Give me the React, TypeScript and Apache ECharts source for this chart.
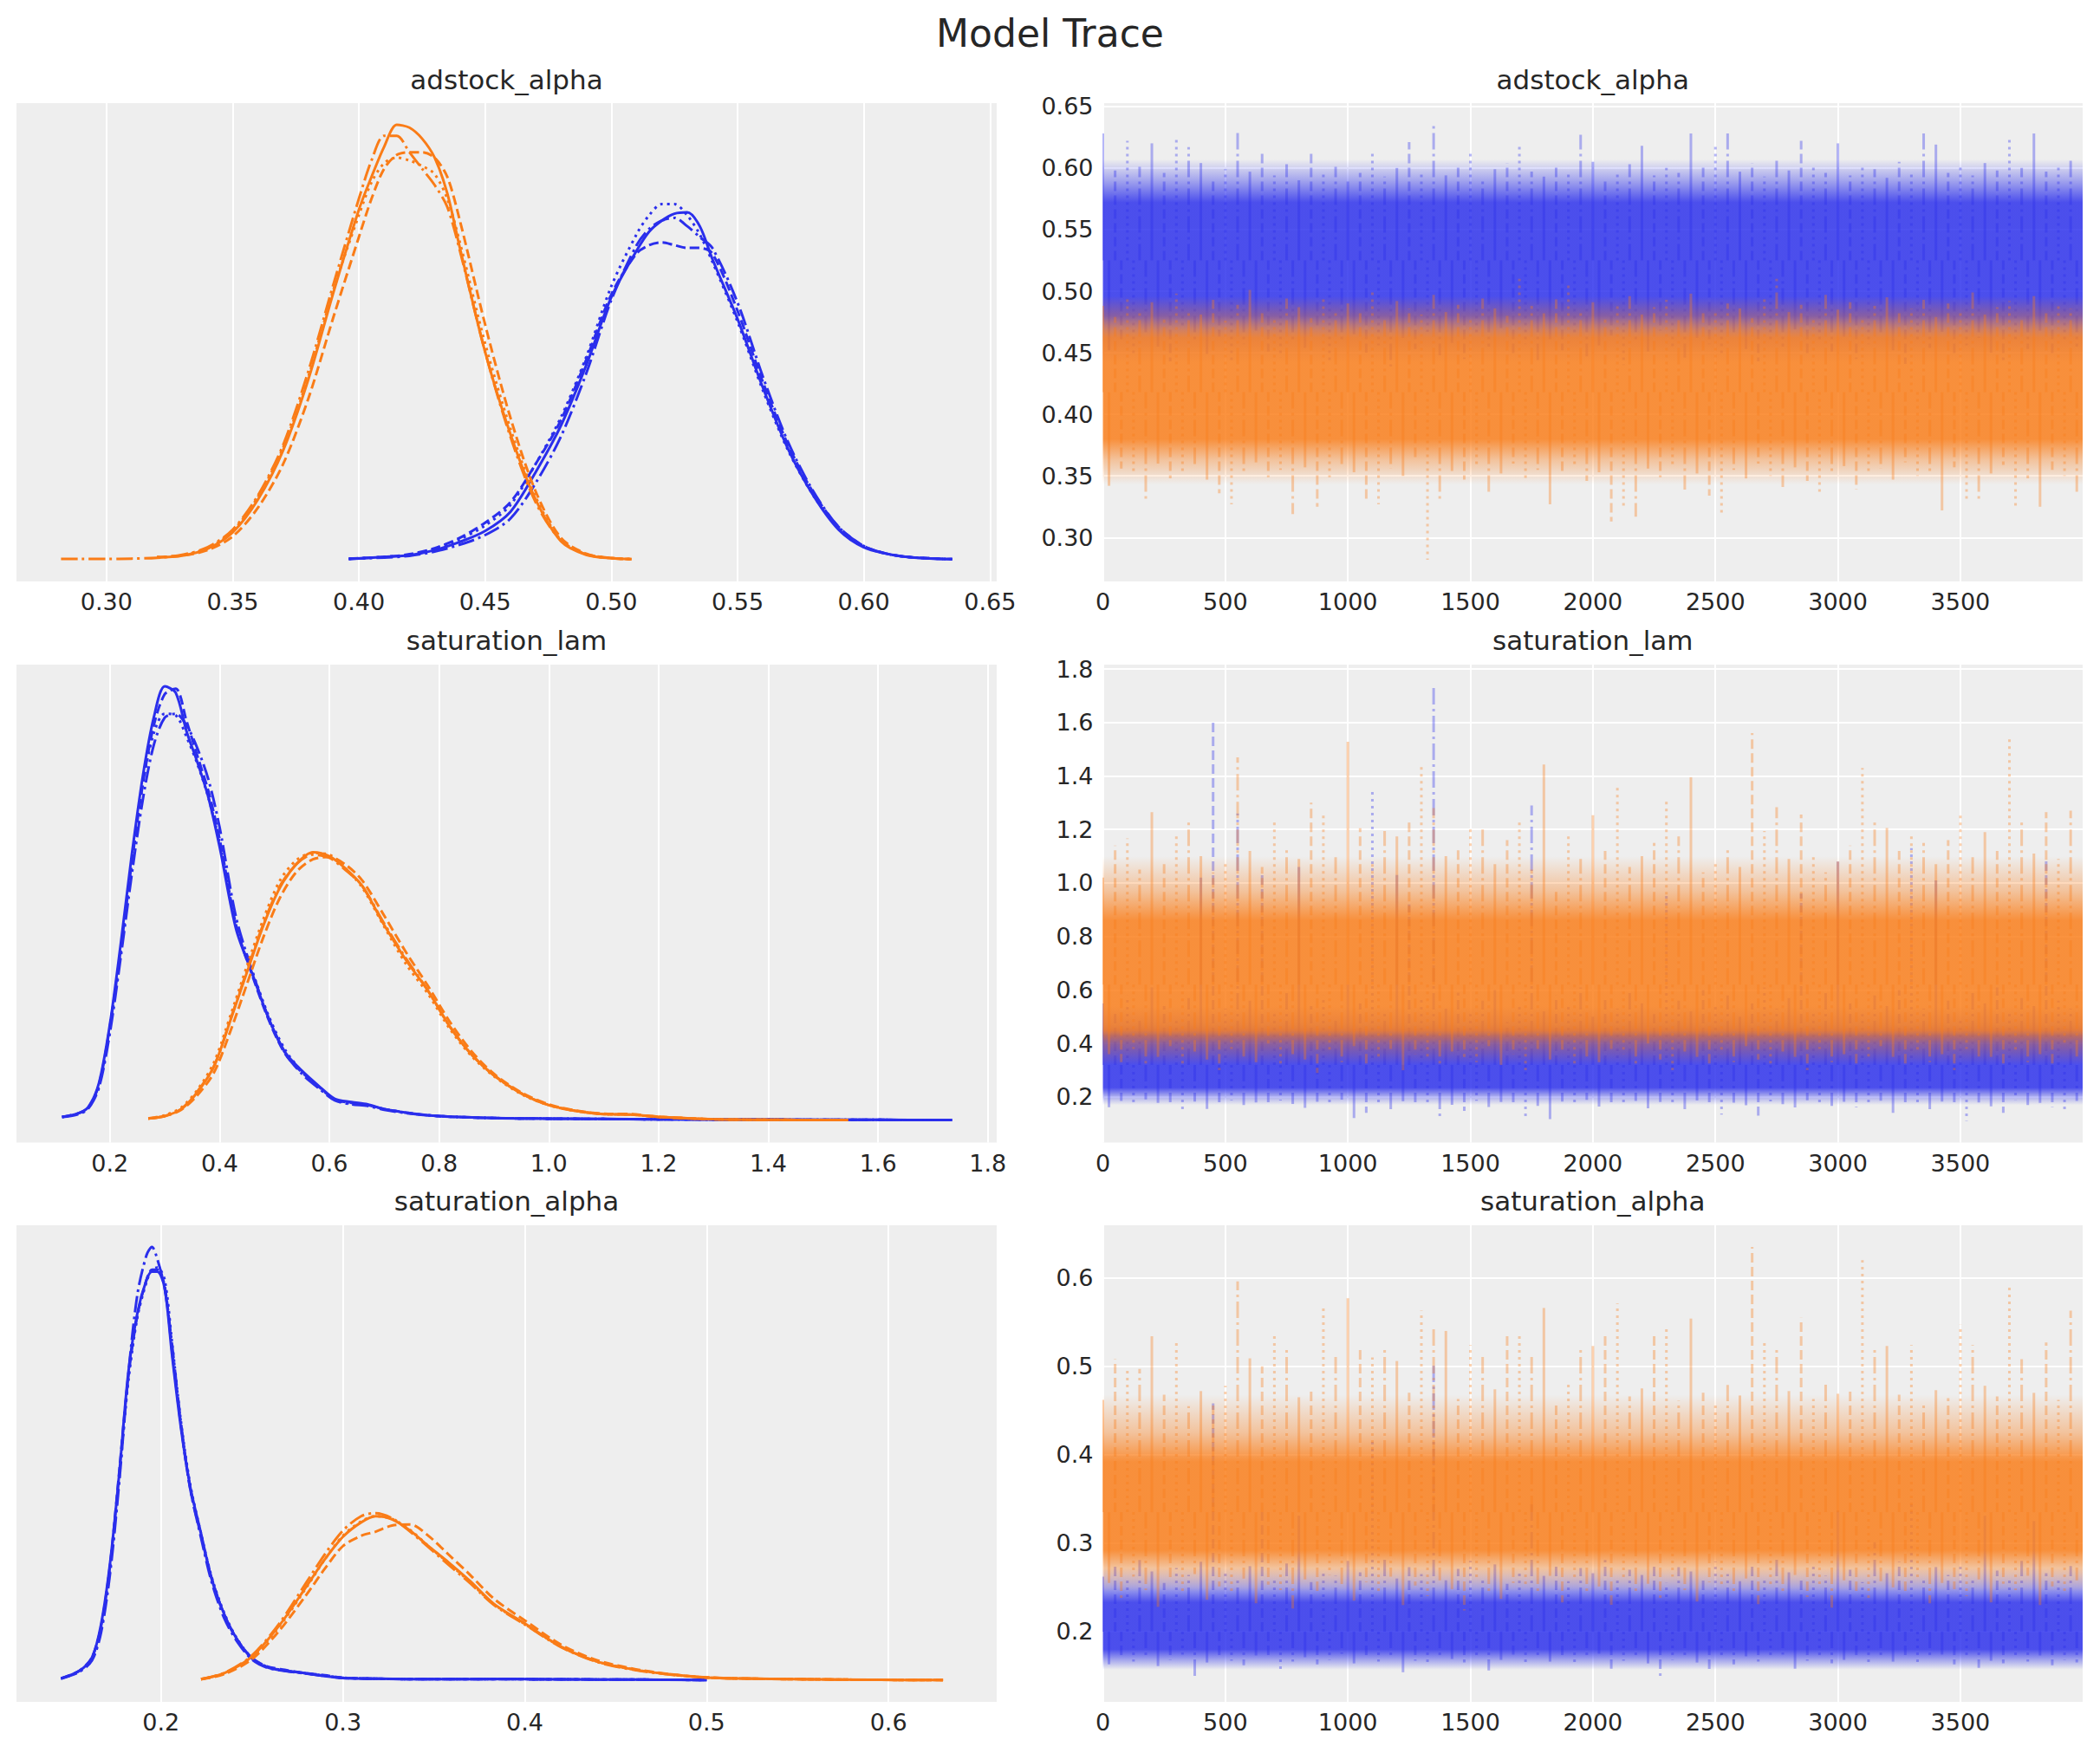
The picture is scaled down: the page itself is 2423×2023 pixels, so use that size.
import { useEffect, useRef } from 'react';
import * as echarts from 'echarts';

const BLUE = '#2a2eec';
const ORANGE = '#fa7c17';
const TEXT = '#262626';
const FONT = '"DejaVu Sans", sans-serif';

const suptitle = 'Model Trace';
const varNames = ['adstock_alpha', 'saturation_lam', 'saturation_alpha'];
const tickStep = [0.05, 0.2, 0.1];
const tickDecimals = [2, 1, 1];
const drawCount = 4000;
const drawTickStep = 500;
const drawSampleStep = 50;

// ---------- KDE: adstock_alpha ----------
const kdeAdBlueX = [0.396, 0.41, 0.42, 0.43, 0.44, 0.45, 0.46, 0.47, 0.48, 0.49, 0.50, 0.51, 0.515, 0.52, 0.525, 0.53, 0.535, 0.54, 0.55, 0.56, 0.57, 0.58, 0.59, 0.60, 0.61, 0.62, 0.635];
const kdeAdBlueSolid = [0.03, 0.1, 0.16, 0.35, 0.65, 1.05, 1.75, 3.2, 4.9, 7.1, 9.6, 11.3, 12.0, 12.4, 12.65, 12.7, 12.2, 11.0, 8.8, 6.3, 4.05, 2.35, 1.1, 0.45, 0.2, 0.08, 0.02];
const kdeAdBlueDashed = [0.04, 0.1, 0.2, 0.42, 0.8, 1.35, 2.1, 3.5, 5.1, 7.3, 9.7, 11.2, 11.5, 11.6, 11.5, 11.4, 11.4, 11.2, 9.1, 6.5, 4.2, 2.45, 1.2, 0.5, 0.2, 0.08, 0.02];
const kdeAdBlueDotted = [0.03, 0.1, 0.18, 0.4, 0.75, 1.25, 2.0, 3.5, 5.2, 7.4, 10.0, 11.9, 12.6, 13.0, 13.0, 12.6, 11.9, 10.9, 8.7, 6.2, 4.0, 2.35, 1.15, 0.48, 0.2, 0.08, 0.02];
const kdeAdBlueDashDot = [0.03, 0.08, 0.14, 0.3, 0.55, 0.9, 1.5, 2.8, 4.5, 6.8, 9.5, 11.5, 12.1, 12.4, 12.5, 12.2, 11.8, 11.4, 9.4, 6.7, 4.3, 2.5, 1.2, 0.5, 0.2, 0.08, 0.02];

const kdeAdOrangeX = [0.282, 0.29, 0.30, 0.31, 0.32, 0.33, 0.34, 0.35, 0.36, 0.37, 0.38, 0.39, 0.40, 0.405, 0.41, 0.415, 0.42, 0.425, 0.43, 0.435, 0.44, 0.45, 0.46, 0.47, 0.48, 0.49, 0.50, 0.508];
const kdeAdOrangeSolid = [null, null, null, null, 0.08, 0.15, 0.4, 1.0, 2.2, 4.0, 6.6, 9.8, 12.8, 14.0, 15.1, 15.9, 15.8, 15.4, 14.7, 13.4, 11.4, 7.6, 4.6, 2.2, 0.68, 0.18, 0.05, 0.02];
const kdeAdOrangeDashed = [null, null, null, null, 0.1, 0.15, 0.35, 0.85, 1.9, 3.5, 5.9, 8.9, 11.8, 13.2, 14.3, 14.8, 14.9, 14.9, 14.7, 14.0, 12.4, 8.6, 5.2, 2.5, 0.8, 0.22, 0.06, 0.02];
const kdeAdOrangeDotted = [null, null, null, null, 0.09, 0.16, 0.42, 1.05, 2.3, 4.1, 6.7, 9.9, 12.6, 13.8, 14.5, 14.7, 14.6, 14.4, 14.1, 13.2, 11.6, 7.9, 4.8, 2.3, 0.72, 0.2, 0.06, 0.02];
const kdeAdOrangeDashDot = [0.03, 0.03, 0.03, 0.04, 0.07, 0.18, 0.45, 1.1, 2.35, 4.2, 6.9, 10.1, 13.2, 14.6, 15.5, 15.5, 14.9, 14.3, 13.7, 12.9, 11.3, 7.6, 4.5, 2.1, 0.7, 0.2, 0.06, 0.02];

// ---------- KDE: saturation_lam ----------
const kdeLamBlueX = [0.113, 0.14, 0.16, 0.18, 0.2, 0.22, 0.24, 0.26, 0.28, 0.30, 0.32, 0.34, 0.36, 0.38, 0.40, 0.43, 0.46, 0.49, 0.52, 0.55, 0.58, 0.61, 0.64, 0.67, 0.70, 0.75, 0.80, 0.9, 1.0, 1.2, 1.4, 1.6, 1.735];
const kdeLamBlueSolid = [0.05, 0.09, 0.17, 0.48, 1.23, 2.27, 3.4, 4.4, 5.15, 5.55, 5.47, 4.97, 4.57, 4.12, 3.5, 2.45, 1.87, 1.3, 0.87, 0.64, 0.45, 0.28, 0.24, 0.21, 0.15, 0.094, 0.06, 0.035, 0.028, 0.019, 0.015, 0.012, 0.01];
const kdeLamBlueDashed = [0.05, 0.09, 0.16, 0.46, 1.2, 2.2, 3.3, 4.3, 5.05, 5.45, 5.52, 5.1, 4.65, 4.2, 3.6, 2.5, 1.85, 1.28, 0.85, 0.62, 0.44, 0.27, 0.23, 0.2, 0.15, 0.095, 0.06, 0.035, 0.028, 0.019, 0.015, 0.012, 0.01];
const kdeLamBlueDotted = [0.05, 0.09, 0.16, 0.45, 1.18, 2.2, 3.3, 4.3, 4.95, 5.2, 5.18, 4.9, 4.55, 4.12, 3.55, 2.5, 1.9, 1.33, 0.9, 0.63, 0.43, 0.27, 0.22, 0.2, 0.15, 0.095, 0.06, 0.035, 0.028, 0.019, 0.015, 0.012, 0.01];
const kdeLamBlueDashDot = [0.05, 0.08, 0.15, 0.42, 1.12, 2.1, 3.15, 4.1, 4.8, 5.15, 5.2, 5.05, 4.75, 4.35, 3.75, 2.6, 1.9, 1.3, 0.86, 0.6, 0.42, 0.26, 0.21, 0.19, 0.14, 0.09, 0.06, 0.035, 0.028, 0.019, 0.015, 0.012, 0.01];

const kdeLamOrangeX = [0.27, 0.30, 0.33, 0.36, 0.39, 0.42, 0.45, 0.48, 0.51, 0.54, 0.57, 0.60, 0.63, 0.66, 0.70, 0.74, 0.78, 0.82, 0.86, 0.90, 0.95, 1.0, 1.05, 1.1, 1.15, 1.2, 1.3, 1.4, 1.545];
const kdeLamOrangeSolid = [0.03, 0.06, 0.15, 0.37, 0.7, 1.29, 1.9, 2.5, 2.98, 3.28, 3.43, 3.38, 3.22, 3.0, 2.5, 2.05, 1.66, 1.2, 0.84, 0.58, 0.35, 0.2, 0.127, 0.085, 0.08, 0.05, 0.02, 0.013, 0.01];
const kdeLamOrangeDashed = [0.03, 0.06, 0.14, 0.33, 0.62, 1.15, 1.75, 2.35, 2.85, 3.18, 3.34, 3.37, 3.27, 3.07, 2.62, 2.15, 1.72, 1.26, 0.88, 0.6, 0.36, 0.21, 0.13, 0.09, 0.085, 0.05, 0.02, 0.013, 0.01];
const kdeLamOrangeDotted = [0.03, 0.07, 0.17, 0.4, 0.75, 1.35, 1.98, 2.58, 3.07, 3.33, 3.42, 3.4, 3.22, 2.98, 2.48, 2.0, 1.62, 1.17, 0.82, 0.57, 0.34, 0.2, 0.125, 0.085, 0.08, 0.05, 0.02, 0.013, 0.01];
const kdeLamOrangeDashDot = [0.03, 0.06, 0.15, 0.38, 0.7, 1.3, 1.92, 2.52, 3.0, 3.28, 3.4, 3.36, 3.2, 3.0, 2.52, 2.07, 1.66, 1.2, 0.84, 0.58, 0.35, 0.2, 0.125, 0.085, 0.08, 0.05, 0.02, 0.013, 0.01];

// ---------- KDE: saturation_alpha ----------
const kdeSaBlueX = [0.145, 0.155, 0.162, 0.167, 0.172, 0.177, 0.182, 0.187, 0.192, 0.195, 0.198, 0.202, 0.206, 0.211, 0.216, 0.222, 0.228, 0.235, 0.242, 0.25, 0.258, 0.268, 0.278, 0.29, 0.30, 0.32, 0.35, 0.39, 0.42, 0.46, 0.50];
const kdeSaBlueSolid = [0.09, 0.45, 1.1, 2.7, 5.7, 10.0, 14.9, 17.8, 19.4, 19.8, 19.8, 19.0, 15.8, 12.2, 9.4, 7.1, 4.85, 3.15, 1.95, 1.05, 0.64, 0.46, 0.36, 0.2, 0.11, 0.07, 0.05, 0.06, 0.04, 0.03, 0.01];
const kdeSaBlueDashed = [0.09, 0.45, 1.1, 2.6, 5.6, 10.1, 14.7, 17.7, 19.4, 19.9, 19.9, 19.1, 16.0, 12.3, 9.3, 7.0, 4.9, 3.1, 1.95, 1.08, 0.68, 0.5, 0.36, 0.24, 0.12, 0.07, 0.05, 0.05, 0.04, 0.03, 0.01];
const kdeSaBlueDotted = [0.08, 0.42, 1.0, 2.45, 5.4, 9.8, 14.5, 17.6, 19.3, 19.9, 20.0, 19.4, 16.4, 12.5, 9.5, 7.1, 4.95, 3.2, 1.98, 1.08, 0.66, 0.47, 0.35, 0.22, 0.12, 0.07, 0.05, 0.05, 0.04, 0.03, 0.01];
const kdeSaBlueDashDot = [0.08, 0.4, 0.95, 2.3, 5.2, 9.6, 14.8, 18.7, 20.6, 21.0, 20.4, 19.0, 16.3, 12.4, 9.3, 6.9, 4.7, 2.95, 1.85, 1.0, 0.62, 0.45, 0.34, 0.21, 0.11, 0.07, 0.05, 0.05, 0.04, 0.03, 0.01];

const kdeSaOrangeX = [0.222, 0.235, 0.25, 0.265, 0.28, 0.29, 0.30, 0.31, 0.318, 0.327, 0.337, 0.347, 0.358, 0.37, 0.383, 0.40, 0.42, 0.44, 0.46, 0.48, 0.50, 0.52, 0.55, 0.59, 0.63];
const kdeSaOrangeSolid = [0.05, 0.35, 1.15, 2.65, 4.55, 5.85, 6.95, 7.65, 7.95, 7.8, 7.25, 6.5, 5.72, 4.8, 3.7, 2.75, 1.62, 0.9, 0.52, 0.28, 0.13, 0.08, 0.05, 0.02, 0.01];
const kdeSaOrangeDashed = [0.04, 0.3, 1.02, 2.4, 4.15, 5.4, 6.5, 7.0, 7.2, 7.5, 7.55, 7.0, 6.1, 5.1, 3.95, 2.9, 1.72, 0.96, 0.55, 0.29, 0.14, 0.08, 0.05, 0.02, 0.01];
const kdeSaOrangeDotted = [0.05, 0.34, 1.12, 2.6, 4.5, 5.85, 7.0, 7.7, 7.95, 7.82, 7.28, 6.5, 5.68, 4.75, 3.68, 2.72, 1.62, 0.9, 0.52, 0.28, 0.13, 0.08, 0.05, 0.02, 0.01];
const kdeSaOrangeDashDot = [0.05, 0.36, 1.2, 2.75, 4.75, 6.1, 7.25, 7.95, 8.1, 7.85, 7.2, 6.45, 5.6, 4.7, 3.65, 2.7, 1.6, 0.88, 0.5, 0.27, 0.13, 0.08, 0.05, 0.02, 0.01];

// ---------- Trace: adstock_alpha (extremes every 50 draws) ----------
const trAdBlueCenter = 0.525;
const trAdBlueCore = [0.480, 0.572];
const trAdBlueMid = [0.462, 0.590];
const trAdBlueFade = [0.442, 0.607];
const trAdBlueHi = [0.628, 0.598, 0.622, 0.601, 0.620, 0.596, 0.625, 0.617, 0.604, 0.592, 0.599, 0.631, 0.597, 0.612, 0.594, 0.603, 0.590, 0.612, 0.597, 0.601, 0.589, 0.596, 0.614, 0.593, 0.600, 0.621, 0.596, 0.635, 0.594, 0.602, 0.613, 0.591, 0.599, 0.604, 0.620, 0.597, 0.593, 0.601, 0.596, 0.627, 0.605, 0.592, 0.598, 0.603, 0.618, 0.594, 0.600, 0.596, 0.628, 0.601, 0.619, 0.628, 0.597, 0.604, 0.593, 0.609, 0.598, 0.622, 0.601, 0.596, 0.620, 0.594, 0.603, 0.599, 0.592, 0.605, 0.597, 0.628, 0.619, 0.596, 0.601, 0.594, 0.604, 0.598, 0.623, 0.600, 0.628, 0.597, 0.602, 0.608];
const trAdBlueLo = [0.452, 0.461, 0.447, 0.466, 0.455, 0.443, 0.470, 0.458, 0.449, 0.463, 0.441, 0.457, 0.468, 0.451, 0.446, 0.460, 0.454, 0.471, 0.444, 0.459, 0.465, 0.450, 0.456, 0.439, 0.462, 0.453, 0.467, 0.448, 0.458, 0.445, 0.463, 0.455, 0.470, 0.449, 0.457, 0.442, 0.461, 0.452, 0.466, 0.447, 0.456, 0.464, 0.440, 0.459, 0.451, 0.468, 0.454, 0.446, 0.462, 0.457, 0.449, 0.465, 0.453, 0.443, 0.460, 0.455, 0.469, 0.448, 0.458, 0.451, 0.463, 0.445, 0.457, 0.466, 0.452, 0.441, 0.459, 0.454, 0.467, 0.448, 0.456, 0.462, 0.450, 0.444, 0.461, 0.453, 0.468, 0.447, 0.458, 0.455];
const trAdOrangeCenter = 0.418;
const trAdOrangeCore = [0.380, 0.462];
const trAdOrangeMid = [0.363, 0.478];
const trAdOrangeFade = [0.343, 0.496];
const trAdOrangeHi = [0.488, 0.479, 0.495, 0.483, 0.491, 0.477, 0.498, 0.485, 0.481, 0.493, 0.476, 0.489, 0.501, 0.484, 0.480, 0.494, 0.487, 0.478, 0.496, 0.482, 0.490, 0.485, 0.499, 0.479, 0.492, 0.486, 0.481, 0.497, 0.483, 0.489, 0.478, 0.494, 0.486, 0.480, 0.510, 0.488, 0.482, 0.495, 0.507, 0.484, 0.491, 0.477, 0.489, 0.496, 0.481, 0.487, 0.493, 0.479, 0.498, 0.485, 0.482, 0.490, 0.486, 0.478, 0.494, 0.510, 0.483, 0.489, 0.480, 0.497, 0.485, 0.491, 0.477, 0.488, 0.495, 0.482, 0.486, 0.493, 0.479, 0.490, 0.484, 0.499, 0.481, 0.487, 0.492, 0.478, 0.496, 0.483, 0.489, 0.486];
const trAdOrangeLo = [0.342, 0.356, 0.351, 0.328, 0.360, 0.348, 0.354, 0.358, 0.347, 0.336, 0.327, 0.352, 0.361, 0.349, 0.355, 0.319, 0.357, 0.325, 0.349, 0.359, 0.353, 0.330, 0.327, 0.356, 0.350, 0.362, 0.282, 0.331, 0.354, 0.347, 0.358, 0.336, 0.352, 0.360, 0.345, 0.355, 0.327, 0.351, 0.357, 0.346, 0.353, 0.313, 0.325, 0.317, 0.356, 0.349, 0.359, 0.339, 0.352, 0.334, 0.319, 0.355, 0.348, 0.360, 0.350, 0.341, 0.357, 0.346, 0.334, 0.353, 0.358, 0.339, 0.351, 0.356, 0.347, 0.361, 0.350, 0.354, 0.322, 0.357, 0.328, 0.331, 0.352, 0.359, 0.323, 0.348, 0.325, 0.355, 0.350, 0.334];

// ---------- Trace: saturation_lam ----------
const trLamBlueCenter = 0.32;
const trLamBlueCore = [0.235, 0.43];
const trLamBlueMid = [0.205, 0.47];
const trLamBlueFade = [0.170, 0.540];
const trLamBlueHi = [0.55, 0.52, 0.58, 0.50, 0.61, 0.54, 0.49, 0.57, 1.02, 1.61, 0.53, 1.26, 0.56, 1.03, 0.51, 0.60, 1.06, 0.54, 0.58, 0.50, 0.62, 0.55, 1.35, 0.52, 1.03, 0.92, 0.57, 1.73, 0.53, 0.59, 0.51, 0.56, 0.60, 0.48, 0.55, 1.29, 0.52, 0.58, 0.54, 0.61, 0.50, 0.57, 0.53, 0.59, 0.55, 0.51, 0.96, 0.56, 0.52, 0.60, 0.54, 0.58, 0.50, 0.55, 0.61, 0.53, 0.57, 0.96, 0.52, 0.59, 1.08, 0.55, 0.51, 0.58, 0.54, 0.60, 1.13, 0.53, 1.01, 0.56, 0.50, 0.59, 0.55, 0.61, 0.52, 0.57, 0.54, 1.09, 0.56, 0.53];
const trLamBlueLo = [0.162, 0.185, 0.172, 0.191, 0.178, 0.168, 0.148, 0.183, 0.155, 0.176, 0.188, 0.170, 0.180, 0.165, 0.187, 0.174, 0.159, 0.182, 0.169, 0.190, 0.121, 0.141, 0.177, 0.148, 0.184, 0.166, 0.179, 0.121, 0.171, 0.148, 0.186, 0.163, 0.181, 0.173, 0.121, 0.167, 0.117, 0.183, 0.175, 0.189, 0.164, 0.178, 0.170, 0.185, 0.158, 0.181, 0.172, 0.148, 0.187, 0.166, 0.134, 0.179, 0.169, 0.130, 0.184, 0.173, 0.161, 0.188, 0.176, 0.167, 0.182, 0.162, 0.171, 0.186, 0.141, 0.177, 0.168, 0.141, 0.183, 0.174, 0.111, 0.180, 0.165, 0.141, 0.189, 0.170, 0.178, 0.163, 0.141, 0.185];
const trLamOrangeCenter = 0.62;
const trLamOrangeCore = [0.45, 0.86];
const trLamOrangeMid = [0.40, 0.97];
const trLamOrangeFade = [0.32, 1.10];
const trLamOrangeHi = [1.02, 1.14, 1.167, 1.05, 1.265, 1.08, 1.19, 1.23, 1.10, 1.04, 1.07, 1.47, 1.12, 1.06, 1.23, 1.137, 1.09, 1.30, 1.256, 1.11, 1.528, 1.205, 1.08, 1.194, 1.174, 1.23, 1.447, 1.28, 1.10, 1.13, 1.205, 1.205, 1.07, 1.16, 1.23, 1.05, 1.443, 0.98, 1.178, 1.09, 1.253, 1.12, 1.365, 1.06, 1.10, 1.15, 1.314, 1.174, 1.395, 1.04, 1.08, 1.13, 1.06, 1.56, 1.194, 1.283, 1.09, 1.256, 1.11, 1.04, 1.08, 1.14, 1.43, 1.226, 1.206, 1.12, 1.174, 1.15, 1.07, 1.16, 1.26, 1.10, 1.19, 1.12, 1.55, 1.238, 1.11, 1.265, 1.09, 1.27];
const trLamOrangeLo = [0.36, 0.33, 0.38, 0.31, 0.35, 0.39, 0.32, 0.37, 0.34, 0.30, 0.38, 0.35, 0.33, 0.40, 0.31, 0.36, 0.34, 0.29, 0.37, 0.33, 0.39, 0.32, 0.35, 0.38, 0.30, 0.36, 0.34, 0.31, 0.37, 0.35, 0.33, 0.39, 0.32, 0.36, 0.30, 0.38, 0.34, 0.37, 0.31, 0.35, 0.33, 0.38, 0.36, 0.32, 0.40, 0.34, 0.30, 0.37, 0.35, 0.31, 0.36, 0.33, 0.39, 0.34, 0.32, 0.37, 0.35, 0.30, 0.38, 0.33, 0.36, 0.31, 0.34, 0.39, 0.35, 0.32, 0.37, 0.33, 0.36, 0.30, 0.38, 0.34, 0.35, 0.31, 0.37, 0.33, 0.36, 0.32, 0.39, 0.34];

// ---------- Trace: saturation_alpha ----------
const trSaBlueCenter = 0.20;
const trSaBlueCore = [0.180, 0.233];
const trSaBlueMid = [0.168, 0.250];
const trSaBlueFade = [0.157, 0.272];
const trSaBlueHi = [0.262, 0.275, 0.258, 0.281, 0.268, 0.255, 0.272, 0.264, 0.279, 0.458, 0.266, 0.259, 0.274, 0.335, 0.261, 0.277, 0.331, 0.256, 0.270, 0.263, 0.280, 0.267, 0.417, 0.285, 0.260, 0.273, 0.265, 0.504, 0.258, 0.271, 0.280, 0.262, 0.276, 0.254, 0.269, 0.345, 0.263, 0.278, 0.257, 0.272, 0.266, 0.281, 0.259, 0.270, 0.264, 0.276, 0.255, 0.273, 0.268, 0.261, 0.279, 0.265, 0.257, 0.274, 0.262, 0.282, 0.267, 0.258, 0.275, 0.263, 0.337, 0.270, 0.256, 0.301, 0.266, 0.279, 0.349, 0.260, 0.273, 0.264, 0.277, 0.258, 0.331, 0.269, 0.262, 0.280, 0.325, 0.266, 0.259, 0.274];
const trSaBlueLo = [0.163, 0.170, 0.166, 0.172, 0.161, 0.168, 0.174, 0.148, 0.165, 0.171, 0.167, 0.162, 0.173, 0.169, 0.156, 0.166, 0.171, 0.163, 0.168, 0.175, 0.164, 0.170, 0.166, 0.172, 0.154, 0.167, 0.161, 0.173, 0.169, 0.165, 0.171, 0.156, 0.168, 0.174, 0.163, 0.170, 0.166, 0.172, 0.162, 0.169, 0.175, 0.158, 0.167, 0.171, 0.164, 0.150, 0.168, 0.173, 0.165, 0.156, 0.170, 0.163, 0.172, 0.166, 0.169, 0.174, 0.158, 0.167, 0.171, 0.164, 0.168, 0.173, 0.162, 0.170, 0.166, 0.172, 0.165, 0.169, 0.174, 0.163, 0.171, 0.159, 0.167, 0.164, 0.170, 0.166, 0.173, 0.162, 0.168, 0.165];
const trSaOrangeCenter = 0.335;
const trSaOrangeCore = [0.292, 0.392];
const trSaOrangeMid = [0.272, 0.425];
const trSaOrangeFade = [0.245, 0.468];
const trSaOrangeHi = [0.462, 0.508, 0.495, 0.497, 0.534, 0.468, 0.530, 0.455, 0.472, 0.460, 0.478, 0.596, 0.509, 0.500, 0.536, 0.520, 0.465, 0.476, 0.567, 0.511, 0.577, 0.519, 0.510, 0.521, 0.506, 0.470, 0.563, 0.546, 0.540, 0.463, 0.524, 0.514, 0.474, 0.538, 0.539, 0.512, 0.566, 0.458, 0.480, 0.523, 0.523, 0.534, 0.571, 0.466, 0.475, 0.534, 0.545, 0.461, 0.554, 0.470, 0.458, 0.479, 0.467, 0.635, 0.527, 0.520, 0.472, 0.555, 0.463, 0.481, 0.469, 0.476, 0.620, 0.522, 0.523, 0.468, 0.524, 0.457, 0.473, 0.464, 0.547, 0.524, 0.478, 0.466, 0.592, 0.508, 0.470, 0.527, 0.462, 0.563];
const trSaOrangeLo = [0.255, 0.238, 0.262, 0.247, 0.228, 0.258, 0.243, 0.265, 0.236, 0.251, 0.244, 0.260, 0.232, 0.253, 0.247, 0.226, 0.259, 0.241, 0.264, 0.249, 0.235, 0.256, 0.245, 0.262, 0.230, 0.252, 0.240, 0.258, 0.248, 0.224, 0.261, 0.246, 0.237, 0.255, 0.250, 0.242, 0.263, 0.233, 0.257, 0.245, 0.251, 0.229, 0.259, 0.243, 0.254, 0.238, 0.262, 0.247, 0.234, 0.256, 0.249, 0.241, 0.260, 0.231, 0.253, 0.245, 0.264, 0.239, 0.252, 0.227, 0.258, 0.246, 0.236, 0.257, 0.250, 0.243, 0.261, 0.232, 0.255, 0.248, 0.240, 0.259, 0.233, 0.254, 0.247, 0.263, 0.230, 0.251, 0.244, 0.258];

// ---------- layout / styles ----------
const W = 2423;
const H = 2023;
const GRID_LEFT = [19, 1272.5];
const GRID_W = [1131, 1130.5];
const GRID_TOP = [119, 767, 1414];
const GRID_H = [552, 551.5, 550];
const TITLE_Y = [92, 739, 1386];
const DASHES: (number[] | null)[] = [null, [11, 5], [3, 5], [19, 5, 3, 5]];
const FADE_ALPHA = { core: 0.83, mid: 0.38 };
const SPIKE_ALPHA = 0.35;

type Kde = { color: string; x: number[]; ys: (number | null)[][] };
type Trace = { color: string; center: number; core: number[]; mid: number[]; fade: number[]; hi: number[]; lo: number[] };

const panels: { kde: Kde[]; trace: Trace[] }[] = [
  {
    kde: [
      { color: BLUE, x: kdeAdBlueX, ys: [kdeAdBlueSolid, kdeAdBlueDashed, kdeAdBlueDotted, kdeAdBlueDashDot] },
      { color: ORANGE, x: kdeAdOrangeX, ys: [kdeAdOrangeSolid, kdeAdOrangeDashed, kdeAdOrangeDotted, kdeAdOrangeDashDot] },
    ],
    trace: [
      { color: BLUE, center: trAdBlueCenter, core: trAdBlueCore, mid: trAdBlueMid, fade: trAdBlueFade, hi: trAdBlueHi, lo: trAdBlueLo },
      { color: ORANGE, center: trAdOrangeCenter, core: trAdOrangeCore, mid: trAdOrangeMid, fade: trAdOrangeFade, hi: trAdOrangeHi, lo: trAdOrangeLo },
    ],
  },
  {
    kde: [
      { color: BLUE, x: kdeLamBlueX, ys: [kdeLamBlueSolid, kdeLamBlueDashed, kdeLamBlueDotted, kdeLamBlueDashDot] },
      { color: ORANGE, x: kdeLamOrangeX, ys: [kdeLamOrangeSolid, kdeLamOrangeDashed, kdeLamOrangeDotted, kdeLamOrangeDashDot] },
    ],
    trace: [
      { color: BLUE, center: trLamBlueCenter, core: trLamBlueCore, mid: trLamBlueMid, fade: trLamBlueFade, hi: trLamBlueHi, lo: trLamBlueLo },
      { color: ORANGE, center: trLamOrangeCenter, core: trLamOrangeCore, mid: trLamOrangeMid, fade: trLamOrangeFade, hi: trLamOrangeHi, lo: trLamOrangeLo },
    ],
  },
  {
    kde: [
      { color: BLUE, x: kdeSaBlueX, ys: [kdeSaBlueSolid, kdeSaBlueDashed, kdeSaBlueDotted, kdeSaBlueDashDot] },
      { color: ORANGE, x: kdeSaOrangeX, ys: [kdeSaOrangeSolid, kdeSaOrangeDashed, kdeSaOrangeDotted, kdeSaOrangeDashDot] },
    ],
    trace: [
      { color: BLUE, center: trSaBlueCenter, core: trSaBlueCore, mid: trSaBlueMid, fade: trSaBlueFade, hi: trSaBlueHi, lo: trSaBlueLo },
      { color: ORANGE, center: trSaOrangeCenter, core: trSaOrangeCore, mid: trSaOrangeMid, fade: trSaOrangeFade, hi: trSaOrangeHi, lo: trSaOrangeLo },
    ],
  },
];

const labelStyle = { fontSize: 27, fontFamily: FONT, color: TEXT };
const splitStyle = { show: true, showMinLine: false, showMaxLine: false, lineStyle: { color: '#ffffff', width: 2 } };

function rgba(hex: string, a: number) {
  const n = parseInt(hex.slice(1), 16);
  return `rgba(${(n >> 16) & 255},${(n >> 8) & 255},${n & 255},${a})`;
}

function stepFormatter(step: number, dec: number) {
  return (v: number) => {
    const q = v / step;
    return Math.abs(q - Math.round(q)) < 1e-6 ? v.toFixed(dec) : '';
  };
}

function buildOption() {
  const grid: any[] = [];
  const xAxis: any[] = [];
  const yAxis: any[] = [];
  const series: any[] = [];
  const graphic: any[] = [
    {
      type: 'text', x: W / 2, y: 38, silent: true,
      style: { text: suptitle, font: `44px ${FONT}`, fill: TEXT, align: 'center', verticalAlign: 'middle', textAlign: 'center', textVerticalAlign: 'middle' },
    },
  ];

  panels.forEach((p, r) => {
    const step = tickStep[r];
    const dec = tickDecimals[r];
    const vals: number[] = [];
    p.kde.forEach((k) => vals.push(...k.x));
    p.trace.forEach((t) => vals.push(...t.hi, ...t.lo));
    const lo = Math.min(...vals);
    const hi = Math.max(...vals);
    const pad = (hi - lo) * 0.05;
    const vMin = lo - pad;
    const vMax = hi + pad;
    let dMax = 0;
    p.kde.forEach((k) => k.ys.forEach((ys) => ys.forEach((v) => { if (v != null && v > dMax) dMax = v; })));

    for (let c = 0; c < 2; c++) {
      grid.push({ left: GRID_LEFT[c], top: GRID_TOP[r], width: GRID_W[c], height: GRID_H[r], show: true, backgroundColor: '#eeeeee', borderWidth: 0 });
      graphic.push({
        type: 'text', x: GRID_LEFT[c] + GRID_W[c] / 2, y: TITLE_Y[r], silent: true,
        style: { text: varNames[r], font: `31px ${FONT}`, fill: TEXT, align: 'center', verticalAlign: 'middle', textAlign: 'center', textVerticalAlign: 'middle' },
      });
    }
    const gk = r * 2;
    const gt = r * 2 + 1;

    xAxis.push({
      type: 'value', gridIndex: gk, min: vMin, max: vMax, minInterval: step, maxInterval: step, splitNumber: 8,
      axisLine: { show: false }, axisTick: { show: false },
      axisLabel: { ...labelStyle, margin: 10, formatter: stepFormatter(step, dec) },
      splitLine: splitStyle,
    });
    yAxis.push({ type: 'value', gridIndex: gk, min: -0.05 * dMax, max: 1.05 * dMax, show: false, splitLine: { show: false } });

    xAxis.push({
      type: 'value', gridIndex: gt, min: 0, max: drawCount - 1, interval: drawTickStep,
      axisLine: { show: false }, axisTick: { show: false },
      axisLabel: { ...labelStyle, margin: 10, formatter: (v: number) => (v % drawTickStep === 0 ? String(v) : '') },
      splitLine: { ...splitStyle, showMinLine: true },
    });
    yAxis.push({
      type: 'value', gridIndex: gt, min: vMin, max: vMax, minInterval: step, maxInterval: step, splitNumber: 8,
      axisLine: { show: false }, axisTick: { show: false },
      axisLabel: { ...labelStyle, margin: 11, formatter: stepFormatter(step, dec) },
      splitLine: splitStyle,
    });

    p.kde.forEach((k, ki) => {
      k.ys.forEach((ys, ci) => {
        const data: number[][] = [];
        k.x.forEach((x, i) => { const y = ys[i]; if (y != null) data.push([x, y]); });
        series.push({
          type: 'line', xAxisIndex: gk, yAxisIndex: gk, data, showSymbol: false, symbol: 'none', smooth: 0.3, silent: true,
          z: 3 + ki,
          lineStyle: { color: k.color, width: 3, type: DASHES[ci] || 'solid', cap: 'butt', join: 'round' },
        });
      });
    });

    p.trace.forEach((t, ti) => {
      const color = t.color;
      const [fLo, fHi] = t.fade;
      const off = (v: number) => Math.min(1, Math.max(0, (fHi - v) / (fHi - fLo)));
      const stops = [
        { offset: 0, color: rgba(color, 0) },
        { offset: off(t.mid[1]), color: rgba(color, FADE_ALPHA.mid) },
        { offset: off(t.core[1]), color: rgba(color, FADE_ALPHA.core) },
        { offset: off(t.core[0]), color: rgba(color, FADE_ALPHA.core) },
        { offset: off(t.mid[0]), color: rgba(color, FADE_ALPHA.mid) },
        { offset: 1, color: rgba(color, 0) },
      ];
      series.push({
        type: 'custom', xAxisIndex: gt, yAxisIndex: gt, silent: true, clip: true, z: 3 + ti * 2,
        data: [[0, drawCount - 1, fLo, fHi]],
        renderItem: (params: any, api: any) => {
          const a = api.coord([api.value(0), api.value(3)]);
          const b = api.coord([api.value(1), api.value(2)]);
          return {
            type: 'rect',
            shape: { x: a[0], y: a[1], width: b[0] - a[0], height: b[1] - a[1] },
            style: { fill: { type: 'linear', x: 0, y: 0, x2: 0, y2: 1, colorStops: stops, global: false } },
          };
        },
      });
      const spikes: number[][] = [];
      t.hi.forEach((v, i) => spikes.push([i * drawSampleStep, t.center, v]));
      t.lo.forEach((v, i) => spikes.push([i * drawSampleStep + drawSampleStep / 2, t.center, v]));
      series.push({
        type: 'custom', xAxisIndex: gt, yAxisIndex: gt, silent: true, clip: true, z: 4 + ti * 2,
        data: spikes,
        renderItem: (params: any, api: any) => {
          const p0 = api.coord([api.value(0), api.value(1)]);
          const p1 = api.coord([api.value(0), api.value(2)]);
          const dash = DASHES[params.dataIndex % 4];
          const style: any = { stroke: color, lineWidth: 3, opacity: SPIKE_ALPHA };
          if (dash) style.lineDash = dash;
          return { type: 'line', shape: { x1: p0[0], y1: p0[1], x2: p1[0], y2: p1[1] }, style };
        },
      });
    });
  });

  return {
    animation: false,
    backgroundColor: '#ffffff',
    grid, xAxis, yAxis, series,
    graphic: { elements: graphic },
  };
}

export default function App() {
  const ref = useRef<HTMLDivElement>(null);
  useEffect(() => {
    if (!ref.current) return;
    const chart = echarts.init(ref.current, null, { renderer: 'svg', width: W, height: H });
    chart.setOption(buildOption() as any);
    return () => chart.dispose();
  }, []);
  return <div ref={ref} style={{ position: 'absolute', left: 0, top: 0, width: W, height: H }} />;
}
